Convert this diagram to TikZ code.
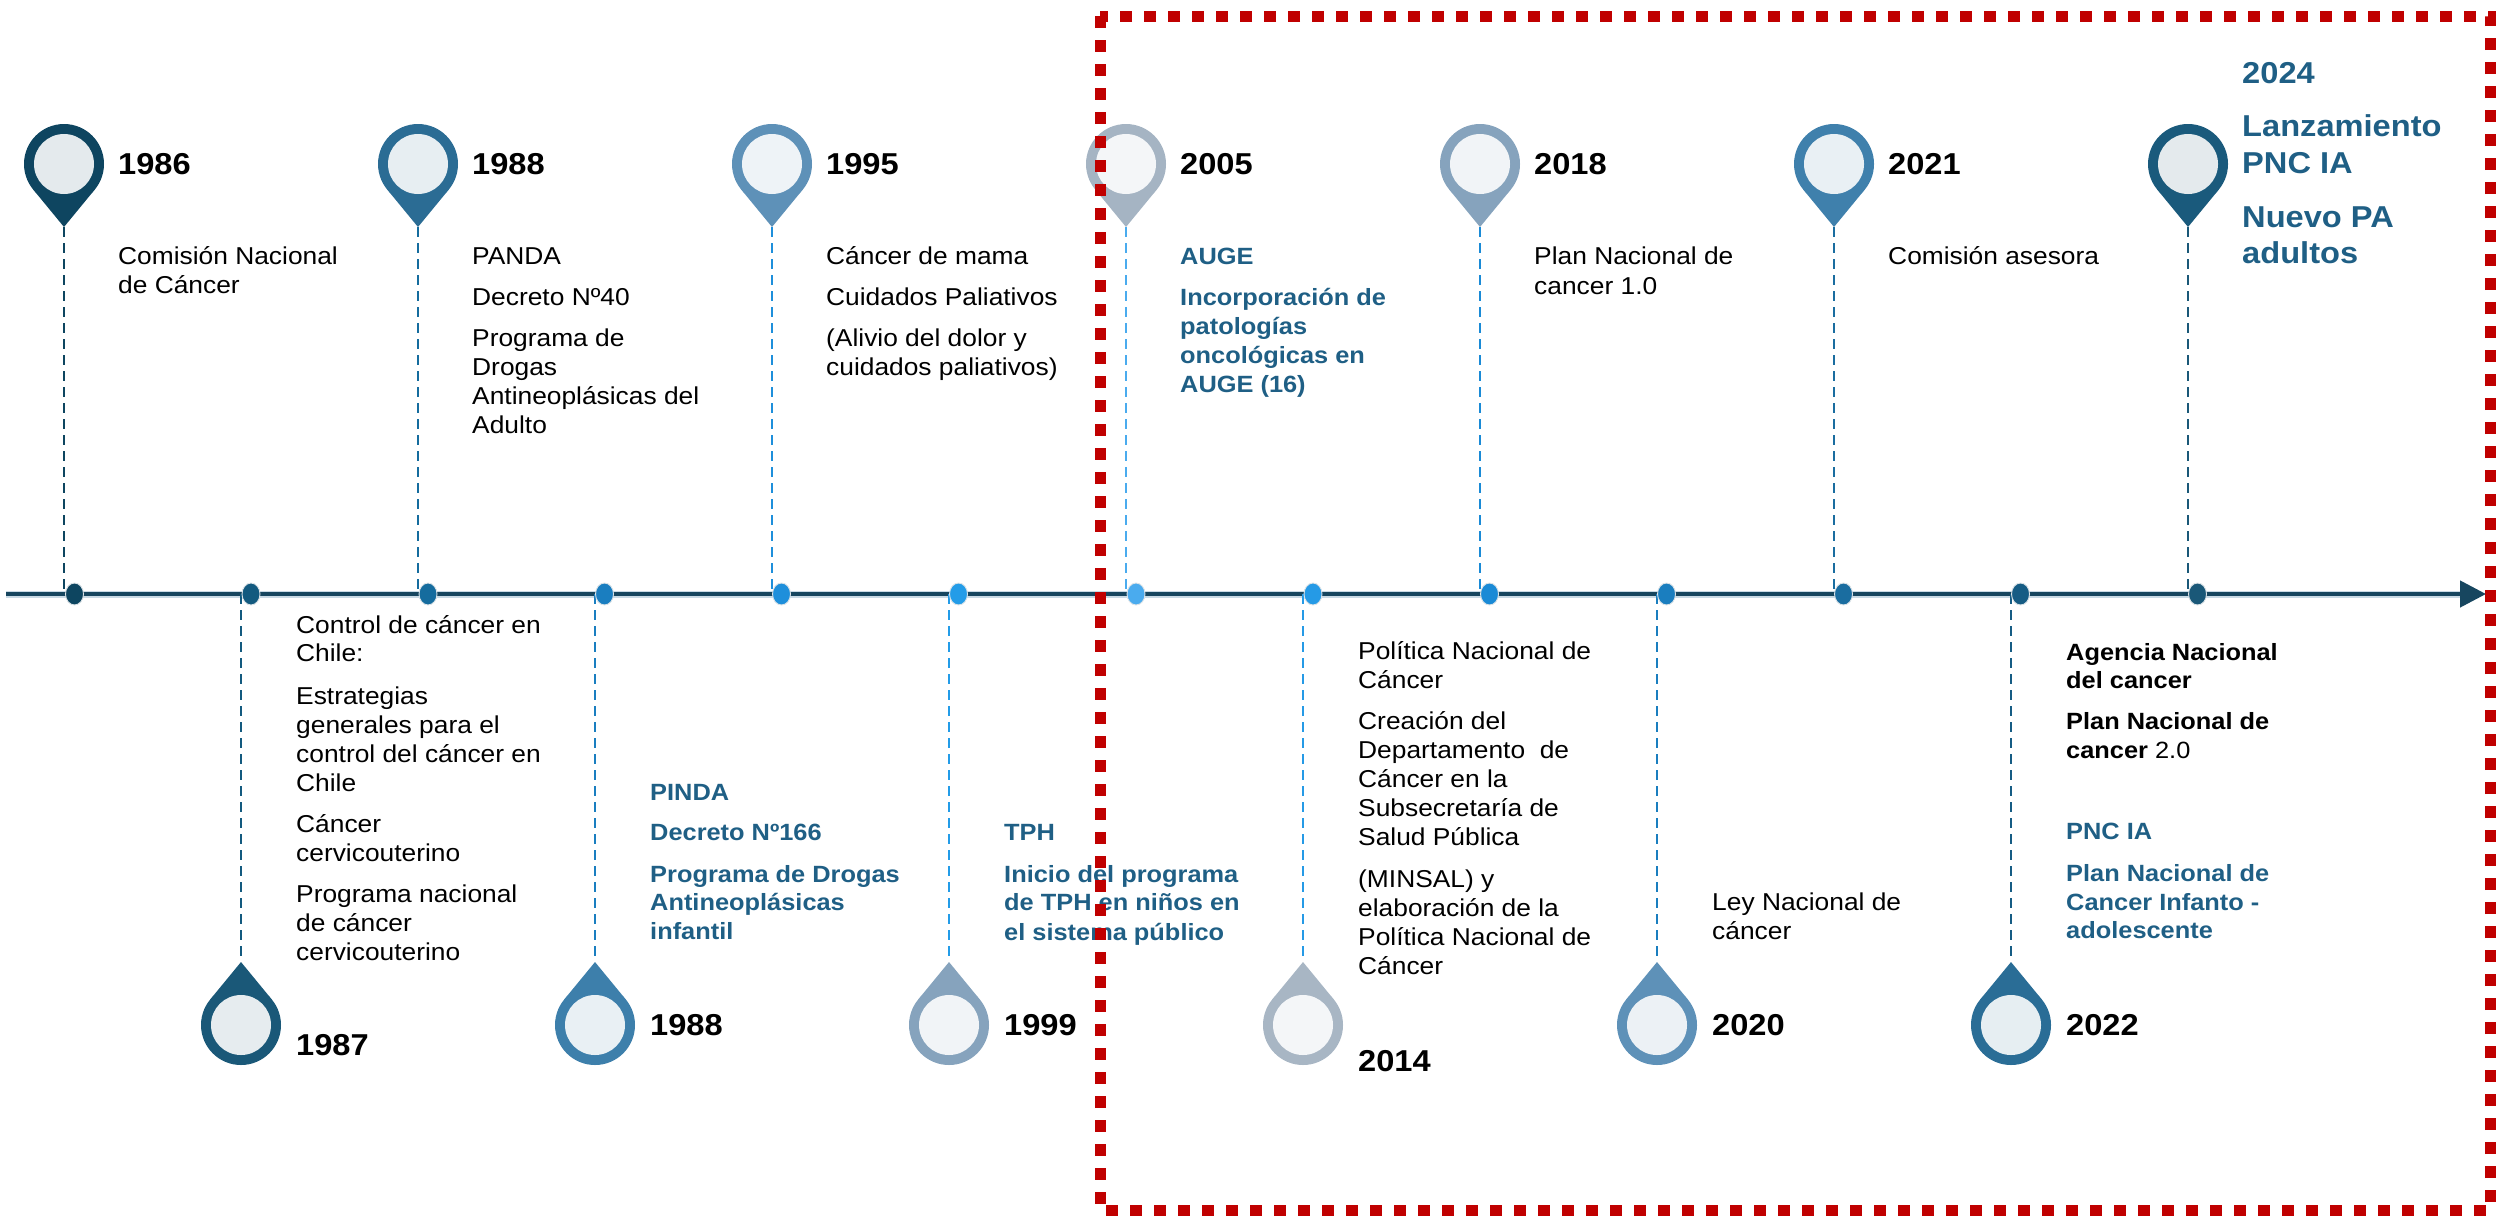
\documentclass[tikz,border=0pt]{standalone}
\usepackage{fontspec}
\setmainfont{Liberation Sans}[FakeStretch=1.08]
\usetikzlibrary{arrows.meta,shapes.geometric}

% pin / inner / dot colours
\definecolor{p1986}{HTML}{0E4560}\definecolor{i1986}{HTML}{E4EAED}\definecolor{d1986}{HTML}{0D4560}
\definecolor{p1987}{HTML}{1A5878}\definecolor{i1987}{HTML}{E6ECEF}\definecolor{d1987}{HTML}{135A7F}
\definecolor{p1988a}{HTML}{2B6C94}\definecolor{i1988a}{HTML}{E7EEF2}\definecolor{d1988a}{HTML}{156C9E}
\definecolor{p1988b}{HTML}{3D7FAB}\definecolor{i1988b}{HTML}{E9F0F4}\definecolor{d1988b}{HTML}{1A7EC0}
\definecolor{p1995}{HTML}{5E91B8}\definecolor{i1995}{HTML}{EEF3F7}\definecolor{d1995}{HTML}{1E8FDB}
\definecolor{p1999}{HTML}{86A3BD}\definecolor{i1999}{HTML}{F1F4F7}\definecolor{d1999}{HTML}{239CE8}
\definecolor{p2005}{HTML}{A5B4C3}\definecolor{i2005}{HTML}{F4F6F8}\definecolor{d2005}{HTML}{4AABEE}
\definecolor{p2014}{HTML}{A8B6C4}\definecolor{i2014}{HTML}{F4F6F8}\definecolor{d2014}{HTML}{259AE6}
\definecolor{p2018}{HTML}{86A3BD}\definecolor{i2018}{HTML}{F1F4F7}\definecolor{d2018}{HTML}{1A8AD6}
\definecolor{p2020}{HTML}{5E91B8}\definecolor{i2020}{HTML}{ECF1F5}\definecolor{d2020}{HTML}{1A7EBF}
\definecolor{p2021}{HTML}{3F80AC}\definecolor{i2021}{HTML}{E9F0F4}\definecolor{d2021}{HTML}{1A6DA0}
\definecolor{p2022}{HTML}{2A6D96}\definecolor{i2022}{HTML}{E6EEF2}\definecolor{d2022}{HTML}{165C84}
\definecolor{p2024}{HTML}{1A5A7C}\definecolor{i2024}{HTML}{E4EAED}\definecolor{d2024}{HTML}{1A5878}
\definecolor{axisdark}{HTML}{17465F}
\definecolor{axislight}{HTML}{C9DAE5}
\definecolor{txtblue}{HTML}{1F5F85}
\definecolor{boxred}{HTML}{C00000}

\tikzset{
  vdash/.style={line width=2.2pt, dash pattern=on 10pt off 6pt},
  dotnode/.style={ellipse, minimum width=18pt, minimum height=22pt, inner sep=0pt, draw=white!85!axisdark, line width=0.9pt},
  body/.style={font=\fontsize{24.4}{29}\selectfont, text=black, inner sep=0pt, anchor=base west},
  bbody/.style={font=\fontsize{23.5}{29}\selectfont\bfseries, text=txtblue, inner sep=0pt, anchor=base west},
  kbody/.style={font=\fontsize{23.5}{29}\selectfont\bfseries, text=black, inner sep=0pt, anchor=base west},
  yearlbl/.style={font=\fontsize{30.2}{36}\selectfont\bfseries, text=black, inner sep=0pt, anchor=base west},
  biglbl/.style={font=\fontsize{30.2}{36}\selectfont\bfseries, text=txtblue, inner sep=0pt, anchor=base west},
}

% #1 name, #2 pin x, #3 dot x
\newcommand\evtop[3]{%
  \coordinate (#1-tip) at (#2,227);
  \coordinate (#1-axis) at (#2,594);
  \draw[vdash, draw=d#1] (#1-tip) -- (#1-axis);
  \node[dotnode, fill=d#1] (#1-dot) at (#3,594) {};
  \fill[p#1] (#2,164) circle[radius=40pt];
  \fill[p#1] (#2-30.9,189.4) -- (#2+30.9,189.4) -- (#1-tip) -- cycle;
  \fill[i#1] (#2,164) circle[radius=30pt];
}
\newcommand\evbot[3]{%
  \coordinate (#1-tip) at (#2,962);
  \coordinate (#1-axis) at (#2,594);
  \draw[vdash, draw=d#1] (#1-axis) -- (#1-tip);
  \node[dotnode, fill=d#1] (#1-dot) at (#3,594) {};
  \fill[p#1] (#2,1025) circle[radius=40pt];
  \fill[p#1] (#2-30.9,999.6) -- (#2+30.9,999.6) -- (#1-tip) -- cycle;
  \fill[i#1] (#2,1025) circle[radius=30pt];
}
% #1 name prefix, #2 x, #3 style, #4 list y/text
\newcommand\txtlines[4]{%
  \foreach \yy/\lbl [count=\i] in {#4} {\node[#3] (#1-\i) at (#2,\yy) {\lbl};}%
}

\begin{document}
\begin{tikzpicture}[x=1pt,y=-1pt]
\useasboundingbox (0,0) rectangle (2496,1216);

% timeline
\coordinate (tl-start) at (6,594);
\coordinate (tl-mid) at (2462,594);
\coordinate (tl-end) at (2486,594);
\draw[axislight, line width=7pt] (tl-start) -- (tl-mid);
\draw[axisdark, line width=4.5pt, -{Triangle[length=26pt,width=26pt]}] (tl-start) -- (tl-end);

% events
\evtop{1986}{64}{74.5}
\evbot{1987}{241}{251}
\evtop{1988a}{418}{428}
\evbot{1988b}{595}{604.5}
\evtop{1995}{772}{781.5}
\evbot{1999}{949}{958.5}
\evtop{2005}{1126}{1136}
\evbot{2014}{1303}{1313}
\evtop{2018}{1480}{1489.5}
\evbot{2020}{1657}{1666.5}
\evtop{2021}{1834}{1843.5}
\evbot{2022}{2011}{2020.5}
\evtop{2024}{2188}{2197.5}

% years (top row)
\node[yearlbl] (y1986) at (118,174) {1986};
\node[yearlbl] (y1988a) at (472,174) {1988};
\node[yearlbl] (y1995) at (826,174) {1995};
\node[yearlbl] (y2005) at (1180,174) {2005};
\node[yearlbl] (y2018) at (1534,174) {2018};
\node[yearlbl] (y2021) at (1888,174) {2021};
% years (bottom row)
\node[yearlbl] (y1987) at (296,1055) {1987};
\node[yearlbl] (y1988b) at (650,1035) {1988};
\node[yearlbl] (y1999) at (1004,1035) {1999};
\node[yearlbl] (y2014) at (1358,1071) {2014};
\node[yearlbl] (y2020) at (1712,1035) {2020};
\node[yearlbl] (y2022) at (2066,1035) {2022};

% top texts
\txtlines{t1986}{118}{body}{264/Comisión Nacional, 293/de Cáncer}
\txtlines{t1988a}{472}{body}{264/PANDA, 305/Decreto Nº40, 346/Programa de, 375/Drogas, 404/Antineoplásicas del, 433/Adulto}
\txtlines{t1995}{826}{body}{264/Cáncer de mama, 305/Cuidados Paliativos, 346/(Alivio del dolor y, 375/cuidados paliativos)}
\txtlines{t2005}{1180}{bbody}{264/AUGE, 305/Incorporación de, 334/patologías, 363/oncológicas en, 392/AUGE (16)}
\txtlines{t2018}{1534}{body}{264/Plan Nacional de, 294/cancer 1.0}
\txtlines{t2021}{1888}{body}{264/Comisión asesora}
\txtlines{t2024}{2242}{biglbl}{83/2024, 136/Lanzamiento, 173/PNC IA, 227/Nuevo PA, 263/adultos}

% bottom texts
\txtlines{t1987}{296}{body}{633/Control de cáncer en, 661/Chile:, 704/Estrategias, 733/generales para el, 762/control del cáncer en, 791/Chile, 832/Cáncer, 861/cervicouterino, 902/Programa nacional, 931/de cáncer, 960/cervicouterino}
\txtlines{t1988b}{650}{bbody}{800/PINDA, 840/Decreto Nº166, 882/Programa de Drogas, 910/Antineoplásicas, 939/infantil}
\txtlines{t1999}{1004}{bbody}{840/TPH, 882/Inicio del programa, 910/de TPH en niños en, 940/el sistema público}
\txtlines{t2014}{1358}{body}{659/Política Nacional de, 688/Cáncer, 729/Creación del, 758/Departamento\ \ de, 787/Cáncer en la, 816/Subsecretaría de, 845/Salud Pública, 887/(MINSAL) y, 916/elaboración de la, 945/Política Nacional de, 974/Cáncer}
\txtlines{t2020}{1712}{body}{910/Ley Nacional de, 939/cáncer}
\txtlines{t2022k}{2066}{kbody}{660/Agencia Nacional, 688/del cancer, 729/Plan Nacional de, 758/{cancer \textmd{2.0}}}
\txtlines{t2022b}{2066}{bbody}{839/PNC IA, 881/Plan Nacional de, 910/Cancer Infanto -, 938/adolescente}

% red highlight frame
\draw[boxred, line width=11pt, dash pattern=on 12pt off 12pt] (1100,16) rectangle (2490,1210);
\end{tikzpicture}
\end{document}
